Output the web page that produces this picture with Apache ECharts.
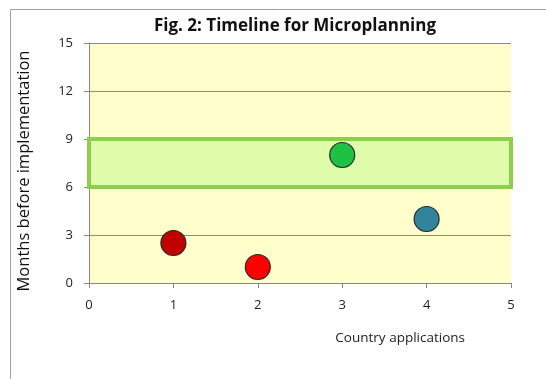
<!DOCTYPE html>
<html>
<head>
<meta charset="utf-8">
<script src="https://cdn.jsdelivr.net/npm/echarts@6/dist/echarts.min.js"></script>
<style>
  html, body { margin: 0; padding: 0; background: #ffffff; }
  #chart { width: 546px; height: 379px; }
</style>
</head>
<body>
<div id="chart"></div>
<script>
// Country applications and months before implementation
const applications = [1, 2, 3, 4];
const months = [2.5, 1, 8, 4];
const pointColors = ['#c00000', '#ff0000', '#1ec142', '#31849b'];
// Target window for microplanning (months)
const targetBand = [6, 9];
const xTicks = { min: 0, max: 5, step: 1 };
const yTicks = { min: 0, max: 15, step: 3 };

const font = 'Open Sans, Noto Sans, sans-serif';
const chart = echarts.init(document.getElementById('chart'), null, { renderer: 'canvas' });

chart.setOption({
  animation: false,
  backgroundColor: '#ffffff',
  title: {
    text: 'Fig. 2: Timeline for Microplanning',
    left: 290, top: 13, textAlign: 'center',
    textStyle: { fontFamily: font, fontSize: 17, fontWeight: 'bold', color: '#111' }
  },
  graphic: [{
    type: 'rect', left: 8, top: 7, silent: true, z: -10,
    shape: { width: 600, height: 400 },
    style: { fill: 'none', stroke: '#a0a0a0', lineWidth: 1 }
  }, {
    type: 'text', x: 24, y: 171, rotation: Math.PI / 2, silent: true,
    style: {
      text: 'Months before implementation',
      fontFamily: font, fontSize: 16.5, fill: '#111',
      align: 'center', verticalAlign: 'middle'
    }
  }],
  grid: { left: 89, right: 35, top: 43, bottom: 96, show: true, backgroundColor: '#ffffcc', borderWidth: 0 },
  xAxis: {
    type: 'value', min: xTicks.min, max: xTicks.max, interval: xTicks.step,
    name: 'Country applications', nameLocation: 'end',
    nameGap: 0,
    nameTextStyle: { fontFamily: font, fontSize: 13.5, color: '#222', align: 'right', verticalAlign: 'top', padding: [48, 46, 0, 0] },
    axisLine: { show: true, lineStyle: { color: '#888', width: 1 } },
    axisTick: { show: true, length: 5, lineStyle: { color: '#888' } },
    axisLabel: { fontFamily: font, fontSize: 13, color: '#222', margin: 16 },
    splitLine: { show: false }
  },
  yAxis: {
    type: 'value', min: yTicks.min, max: yTicks.max, interval: yTicks.step,
    axisLine: { show: true, lineStyle: { color: '#888', width: 1 } },
    axisTick: { show: true, length: 5, lineStyle: { color: '#888' } },
    axisLabel: { fontFamily: font, fontSize: 13, color: '#222', margin: 16 },
    splitLine: { show: true, lineStyle: { color: '#8a8a8a', width: 1 } }
  },
  series: [{
    type: 'scatter',
    symbolSize: 25,
    z: 3,
    data: applications.map((x, i) => ({
      value: [x, months[i]],
      itemStyle: { color: pointColors[i], opacity: 1, borderColor: '#2a2a2a', borderWidth: 1.2 }
    })),
    markArea: {
      silent: true,
      itemStyle: { color: '#defcaa', opacity: 1, borderColor: '#8ccf4c', borderWidth: 4 },
      data: [[{ coord: [xTicks.min, targetBand[0]] }, { coord: [xTicks.max, targetBand[1]] }]]
    }
  }]
});
</script>
</body>
</html>
